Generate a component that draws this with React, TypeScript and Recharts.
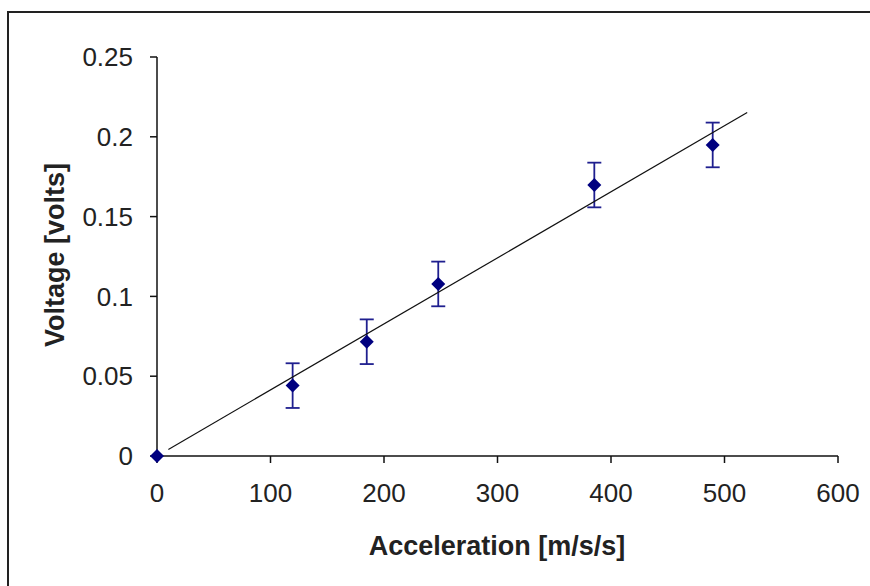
import React from "react";
import { ScatterChart, Scatter, XAxis, YAxis, ErrorBar } from "recharts";

const accel = [0, 119.5, 184.8, 247.8, 385.3, 489.6];
const voltage = [0, 0.0441, 0.0716, 0.1078, 0.1698, 0.1949];
const voltErr = [0, 0.014, 0.014, 0.014, 0.014, 0.014];
const xTicks = [0, 100, 200, 300, 400, 500, 600];
const yTicks = [0, 0.05, 0.1, 0.15, 0.2, 0.25];
const trendRange = [10, 520];

const points = accel.map((x, i) => ({ x, y: voltage[i], err: voltErr[i] }));

// linear fit forced through the origin, like Excel's "set intercept = 0"
const slope =
  accel.reduce((s, x, i) => s + x * voltage[i], 0) /
  accel.reduce((s, x) => s + x * x, 0);
const trend = trendRange.map((x) => ({ x, y: slope * x }));

const font = "'Liberation Sans', Arial, sans-serif";
const tickStyle = { fontSize: 26, fill: "#222", fontFamily: font };

const Diamond = (props: any) => {
  const { cx, cy } = props;
  const r = 7;
  return (
    <polygon
      points={`${cx},${cy - r} ${cx + r},${cy} ${cx},${cy + r} ${cx - r},${cy}`}
      fill="#000080"
    />
  );
};

export default function App() {
  return (
    <div
      style={{
        position: "absolute",
        left: 0,
        top: 0,
        width: 870,
        height: 586,
        overflow: "hidden",
        background: "#fff",
      }}
    >
      <div
        style={{
          position: "absolute",
          left: 7,
          top: 11,
          width: 900,
          height: 700,
          border: "2px solid #222",
        }}
      />
      <div style={{ position: "absolute", left: 0, top: 0 }}>
        <ScatterChart
          width={870}
          height={586}
          margin={{ top: 57, right: 32, bottom: 70, left: 57 }}
        >
          <XAxis
            type="number"
            dataKey="x"
            domain={[0, 600]}
            ticks={xTicks}
            height={60}
            tick={tickStyle}
            tickSize={7}
            tickMargin={21}
            stroke="#111"
            strokeWidth={1.5}
          />
          <YAxis
            type="number"
            dataKey="y"
            domain={[0, 0.25]}
            ticks={yTicks}
            width={100}
            tick={tickStyle}
            tickSize={7}
            tickMargin={17}
            stroke="#111"
            strokeWidth={1.5}
          />
          <Scatter
            data={trend}
            line={{ stroke: "#111", strokeWidth: 1.2 }}
            shape={() => <g />}
            isAnimationActive={false}
          />
          <Scatter data={points} shape={Diamond} isAnimationActive={false}>
            <ErrorBar
              dataKey="err"
              direction="y"
              width={7}
              stroke="#1f1f8f"
              strokeWidth={1.8}
              isAnimationActive={false}
            />
          </Scatter>
        </ScatterChart>
      </div>
      <div
        style={{
          position: "absolute",
          left: 297,
          width: 400,
          top: 530,
          textAlign: "center",
          fontFamily: font,
          fontWeight: "bold",
          fontSize: 27,
          color: "#222",
          lineHeight: "32px",
        }}
      >
        Acceleration [m/s/s]
      </div>
      <div
        style={{
          position: "absolute",
          left: 55,
          top: 255,
          width: 300,
          marginLeft: -150,
          marginTop: -16,
          transform: "rotate(-90deg)",
          textAlign: "center",
          fontFamily: font,
          fontWeight: "bold",
          fontSize: 27,
          color: "#222",
          lineHeight: "32px",
        }}
      >
        Voltage [volts]
      </div>
    </div>
  );
}
